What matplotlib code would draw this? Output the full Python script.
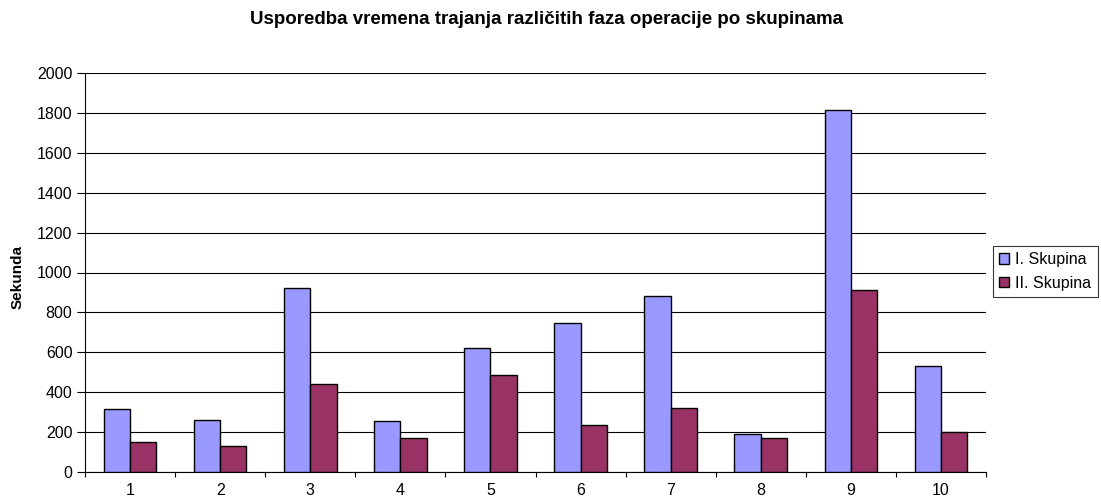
import matplotlib
matplotlib.use("Agg")
import matplotlib.pyplot as plt
import numpy as np

plt.rcParams['font.family'] = ['Liberation Sans', 'DejaVu Sans']

categories = ['1', '2', '3', '4', '5', '6', '7', '8', '9', '10']
skupina_1 = [315, 260, 920, 255, 620, 745, 880, 190, 1815, 530]
skupina_2 = [150, 130, 440, 170, 485, 235, 320, 170, 910, 200]
series_names = ['I. Skupina', 'II. Skupina']
title = 'Usporedba vremena trajanja različitih faza operacije po skupinama'
ylabel = 'Sekunda'

fig = plt.figure(figsize=(11.01, 5.04), dpi=100)
ax = fig.add_axes([85/1101, 1-472/504, (986-85)/1101, (472-73)/504])

x = np.arange(len(categories))
w = 0.292
ax.bar(x - w/2, skupina_1, w, color='#9999FF', edgecolor='black', linewidth=1, label=series_names[0], zorder=3)
ax.bar(x + w/2, skupina_2, w, color='#993366', edgecolor='black', linewidth=1, label=series_names[1], zorder=3)

ax.set_xlim(-0.5, len(categories) - 0.5)
ax.set_ylim(0, 2000)
ax.set_yticks(np.arange(0, 2001, 200))
ax.yaxis.grid(True, color='black', linewidth=0.8, zorder=0)
ax.set_axisbelow(True)

ax.set_xticks(np.arange(-0.5, len(categories)), minor=False)
ax.set_xticklabels([])
ax.set_xticks(x, minor=True)
ax.set_xticklabels(categories, minor=True)
ax.tick_params(axis='x', which='minor', length=0, labelsize=11.5, pad=8)
ax.tick_params(axis='x', which='major', length=3.5, direction='out', width=0.8)
ax.tick_params(axis='y', length=5.5, direction='out', labelsize=11.5, width=0.8, pad=3.5)

for s in ['top', 'right']:
    ax.spines[s].set_visible(False)
ax.spines['left'].set_linewidth(0.8)
ax.spines['bottom'].set_linewidth(0.8)

fig.text(18/1101, 1-277/504, ylabel, rotation=90, ha='center', va='center', fontsize=11, fontweight='bold')
fig.text(547/1101, 1-19/504, title, ha='center', va='center', fontsize=13.5, fontweight='bold')

leg = ax.legend(loc='center left', bbox_to_anchor=(993/1101, 1-271.5/504), bbox_transform=fig.transFigure,
                frameon=True, fancybox=False, edgecolor='black', fontsize=11.5,
                handlelength=0.6, handleheight=0.6, handletextpad=0.4, borderpad=0.4, labelspacing=0.55,
                borderaxespad=0)
leg.get_frame().set_linewidth(0.8)

fig.savefig('out.png', dpi=100)
